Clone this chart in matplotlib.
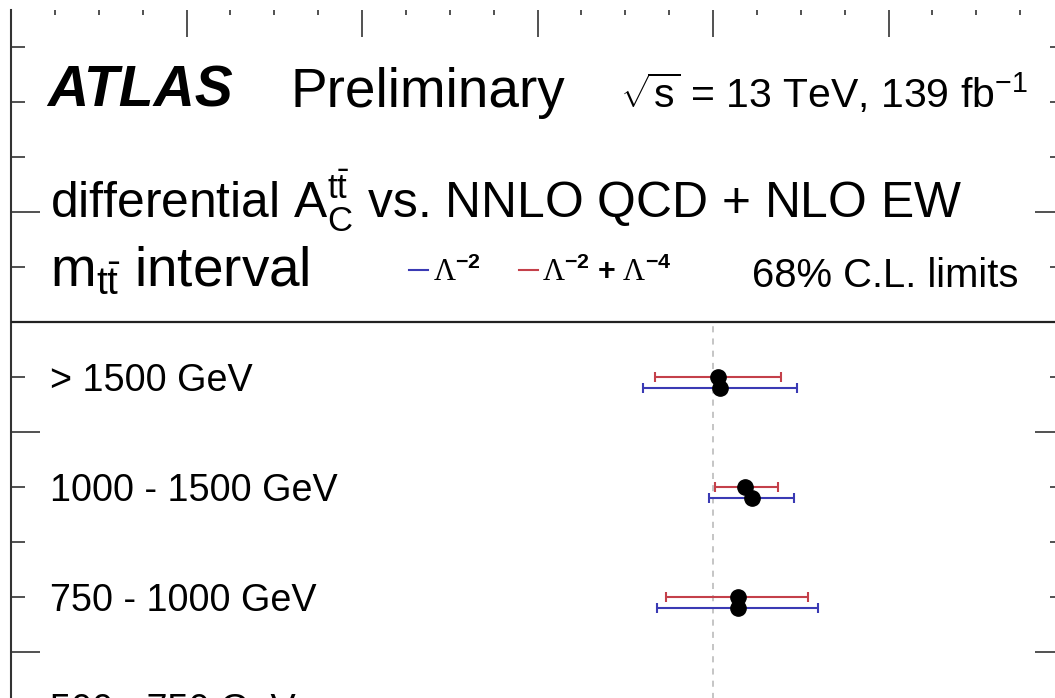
import matplotlib
matplotlib.use("Agg")
import matplotlib.pyplot as plt
from matplotlib.lines import Line2D
from matplotlib.ticker import MultipleLocator

plt.rcParams['font.family'] = ['Liberation Sans', 'DejaVu Sans']
plt.rcParams['mathtext.fontset'] = 'custom'
plt.rcParams['mathtext.rm'] = 'Liberation Sans'
plt.rcParams['mathtext.it'] = 'Liberation Sans:italic'
plt.rcParams['mathtext.bf'] = 'Liberation Sans:bold'

# ---- data ----
row_labels = ["> 1500 GeV", "1000 - 1500 GeV", "750 - 1000 GeV", "500 - 750 GeV"]
# Lambda^-2 (blue)
l2_central = [0.04, 0.22, 0.14, -0.36]
l2_low = [-0.40, -0.02, -0.32, -0.78]
l2_high = [0.48, 0.46, 0.60, 0.06]
# Lambda^-2 + Lambda^-4 (red)
l24_central = [0.03, 0.18, 0.14, -0.36]
l24_low = [-0.33, 0.01, -0.27, -0.72]
l24_high = [0.39, 0.37, 0.54, 0.00]

W, H = 1055, 698
fig = plt.figure(figsize=(W / 100, H / 100), dpi=100)
ax = fig.add_axes([11 / W, 1 - 982 / H, 1053 / W, 972 / H])
ax.set_xlim(-4, 2)
ax.set_ylim(-3, 5.836)

red = '#c4404a'
blue = '#3a3ab4'

y_centers = [2.5 - i for i in range(len(row_labels))]
y_red = y_centers
y_blue = [y - 0.1 for y in y_centers]

ax.axhline(3, color='#222222', lw=1.6, zorder=3)
ax.axvline(0, ymax=(3 + 3) / (5.836 + 3), color='#b5b5b5', lw=1.1,
           ls=(0, (4, 4)), zorder=1)

ax.errorbar(l24_central, y_red,
            xerr=[[c - lo for c, lo in zip(l24_central, l24_low)],
                  [hi - c for c, hi in zip(l24_central, l24_high)]],
            fmt='o', color='black', ms=11, ecolor=red, elinewidth=1.5,
            capsize=3.5, capthick=1.5, zorder=4)
ax.errorbar(l2_central, y_blue,
            xerr=[[c - lo for c, lo in zip(l2_central, l2_low)],
                  [hi - c for c, hi in zip(l2_central, l2_high)]],
            fmt='o', color='black', ms=11, ecolor=blue, elinewidth=1.5,
            capsize=3.5, capthick=1.5, zorder=4)

for lab, y in zip(row_labels, y_centers):
    ax.text(-3.778, y - 0.127, lab, fontsize=27.2, va='baseline', ha='left')

# header
ax.text(-3.795, 4.955, "ATLAS", fontsize=41, fontweight='bold', style='italic',
        va='baseline')
ax.text(-2.41, 4.955, "Preliminary", fontsize=39.5, va='baseline')
ax.text(-0.53, 4.947, r"$\sqrt{\mathrm{s}}$ = 13 TeV, 139 fb$^{\mathrm{-1}}$",
        fontsize=29.5, va='baseline')
ax.text(-3.778, 3.94,
        r"differential A$_{\mathrm{C}}^{\mathrm{t\bar{t}}}$ vs. NNLO QCD + NLO EW",
        fontsize=35.8, va='baseline')
ax.text(-3.778, 3.32, r"m$_{\mathrm{t\bar{t}}}$ interval", fontsize=39.5,
        va='baseline')
ax.text(0.222, 3.32, "68% C.L. limits", fontsize=28.8, va='baseline')

handles = [Line2D([], [], color=blue, lw=1.5), Line2D([], [], color=red, lw=1.5)]
labels = [r"Λ$^{\mathbf{-2}}$", r"Λ$^{\mathbf{-2}}$ $\mathbf{+}$ Λ$^{\mathbf{-4}}$"]
fig.legend(handles, labels, loc='center left',
           bbox_to_anchor=(409 / W, 1 - 272 / H), ncol=2, frameon=False,
           prop={'family': 'Liberation Serif', 'size': 22},
           handlelength=0.62, handletextpad=0.15, columnspacing=1.25,
           borderpad=0, borderaxespad=0)

# axes styling
ax.xaxis.set_major_locator(MultipleLocator(1))
ax.xaxis.set_minor_locator(MultipleLocator(0.25))
ax.yaxis.set_major_locator(MultipleLocator(2))
ax.yaxis.set_minor_locator(MultipleLocator(0.5))
ax.tick_params(axis='x', which='major', direction='in', top=True, bottom=True,
               length=19.5, width=1.2, color='#333333')
ax.tick_params(axis='x', which='minor', direction='in', top=True, bottom=True,
               length=3.5, width=1.2, color='#333333')
ax.tick_params(axis='y', which='major', direction='in', left=True, right=True,
               length=21, width=1.2, color='#333333')
ax.tick_params(axis='y', which='minor', direction='in', left=True, right=True,
               length=10, width=1.2, color='#333333')
ax.tick_params(labelbottom=False, labelleft=False, labeltop=False, labelright=False)
ax.spines['top'].set_visible(False)
for s in ['left', 'right', 'bottom']:
    ax.spines[s].set_linewidth(1.5)
    ax.spines[s].set_color('#333333')

fig.savefig("out.png", dpi=100)
